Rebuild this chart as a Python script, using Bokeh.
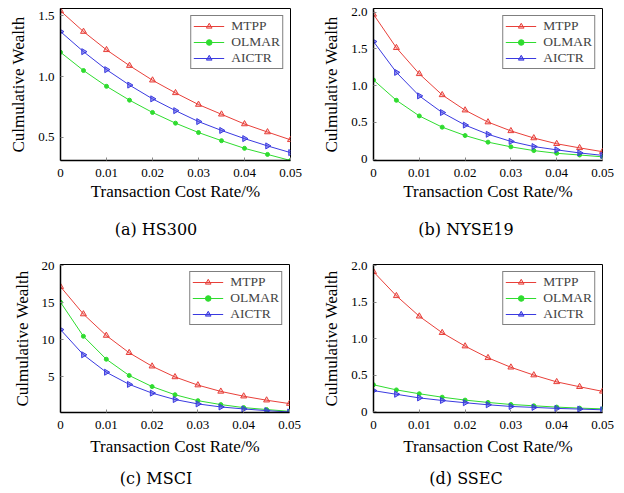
import math
from bokeh.plotting import figure
from bokeh.models import FixedTicker, Range1d, Div
from bokeh.layouts import column, row
from bokeh.embed import file_html
from bokeh.resources import INLINE

# ---------------- data ----------------
cost_rate = [0, 0.005, 0.01, 0.015, 0.02, 0.025, 0.03, 0.035, 0.04, 0.045, 0.05]
series_names = ["MTPP", "OLMAR", "AICTR"]

hs300_mtpp = [1.54, 1.37, 1.22, 1.09, 0.97, 0.866, 0.77, 0.69, 0.61, 0.544, 0.48]
hs300_olmar = [1.20, 1.05, 0.92, 0.806, 0.705, 0.617, 0.54, 0.473, 0.41, 0.36, 0.31]
hs300_aictr = [1.37, 1.205, 1.057, 0.93, 0.817, 0.72, 0.63, 0.557, 0.49, 0.43, 0.375]

nyse_mtpp = [1.97, 1.515, 1.16, 0.873, 0.665, 0.503, 0.383, 0.286, 0.208, 0.152, 0.10]
nyse_olmar = [1.076, 0.80, 0.587, 0.434, 0.32, 0.23, 0.166, 0.115, 0.078, 0.055, 0.03]
nyse_aictr = [1.60, 1.18, 0.86, 0.633, 0.462, 0.337, 0.24, 0.17, 0.125, 0.083, 0.05]

msci_mtpp = [17.2, 13.5, 10.6, 8.27, 6.45, 5.0, 3.9, 3.05, 2.4, 1.86, 1.4]
msci_olmar = [15.1, 10.5, 7.4, 5.2, 3.7, 2.6, 1.8, 1.27, 0.86, 0.6, 0.36]
msci_aictr = [11.4, 8.0, 5.64, 4.0, 2.82, 1.95, 1.36, 0.95, 0.68, 0.45, 0.27]

ssec_mtpp = [1.92, 1.59, 1.31, 1.084, 0.90, 0.74, 0.61, 0.503, 0.41, 0.343, 0.28]
ssec_olmar = [0.37, 0.30, 0.247, 0.20, 0.16, 0.128, 0.10, 0.082, 0.064, 0.05, 0.04]
ssec_aictr = [0.29, 0.24, 0.19, 0.155, 0.124, 0.096, 0.073, 0.06, 0.046, 0.037, 0.027]

x_ticks = [0, 0.01, 0.02, 0.03, 0.04, 0.05]
x_tick_labels = ["0", "0.01", "0.02", "0.03", "0.04", "0.05"]

captions = ["(a) HS300", "(b) NYSE19", "(c) MSCI", "(d) SSEC"]
y_ticks_list = [[0.5, 1.0, 1.5], [0, 0.5, 1.0, 1.5, 2.0], [5, 10, 15, 20], [0, 0.5, 1.0, 1.5, 2.0]]
y_labels_list = [["0.5", "1.0", "1.5"], ["0", "0.5", "1.0", "1.5", "2.0"],
                 ["5", "10", "15", "20"], ["0", "0.5", "1.0", "1.5", "2.0"]]
y_ranges = [(0.31, 1.56), (-0.02, 2.05), (0.2, 20.2), (-0.01, 2.02)]
x_range = (0, 0.05)

datasets = [
    (hs300_mtpp, hs300_olmar, hs300_aictr),
    (nyse_mtpp, nyse_olmar, nyse_aictr),
    (msci_mtpp, msci_olmar, msci_aictr),
    (ssec_mtpp, ssec_olmar, ssec_aictr),
]

# ---------------- style ----------------
FONT = "Liberation Serif"
CAP_FONT = "DejaVu Serif"
RED, GREEN, BLUE = "#e8403a", "#2fdc2f", "#3a3ae0"

# geometry per panel (pixels): width, height, borders l/r/t/b
geoms = [
    (312, 212, 60, 22, 8, 52),
    (308, 212, 61, 18, 8, 52),
    (312, 216, 60, 23, 16, 52),
    (308, 216, 61, 18, 16, 52),
]
# caption strip heights / line heights
cap_heights = [36, 29]
cap_line_heights = [36, 30]


def make_panel(i):
    w, h, bl, br, bt, bb = geoms[i]
    mt, ol, ai = datasets[i]
    y0, y1 = y_ranges[i]
    p = figure(width=w, height=h, output_backend="svg", toolbar_location=None,
               x_range=Range1d(*x_range), y_range=Range1d(y0, y1),
               min_border_left=bl, min_border_right=br,
               min_border_top=bt, min_border_bottom=bb)
    p.grid.visible = False
    p.outline_line_color = "black"
    p.outline_line_width = 1
    p.background_fill_color = "white"
    p.border_fill_color = "white"

    p.line(cost_rate, mt, color=RED, line_width=1, legend_label=series_names[0])
    p.scatter(cost_rate, mt, marker="triangle", size=6, line_color=RED,
              fill_color=RED, fill_alpha=0.25, legend_label=series_names[0])
    p.line(cost_rate, ol, color=GREEN, line_width=1, legend_label=series_names[1])
    p.scatter(cost_rate, ol, marker="circle", size=4, line_color=GREEN,
              fill_color=GREEN, legend_label=series_names[1])
    p.line(cost_rate, ai, color=BLUE, line_width=1, legend_label=series_names[2])
    p.scatter(cost_rate, ai, marker="triangle", angle=-math.pi / 2, size=6,
              line_color=BLUE, fill_color=BLUE, fill_alpha=0.5,
              legend_label=series_names[2])

    p.xaxis.ticker = FixedTicker(ticks=x_ticks)
    p.xaxis.major_label_overrides = dict(zip(x_ticks, x_tick_labels))
    p.yaxis.ticker = FixedTicker(ticks=y_ticks_list[i])
    p.yaxis.major_label_overrides = dict(zip(y_ticks_list[i], y_labels_list[i]))

    for ax in (p.xaxis[0], p.yaxis[0]):
        ax.axis_line_color = "black"
        ax.axis_line_width = 1.5
        ax.major_tick_in = 3
        ax.major_tick_out = 0
        ax.major_tick_line_color = "#888888"
        ax.minor_tick_line_color = None
        ax.major_label_text_font = FONT
        ax.major_label_text_font_size = "13px"
        ax.major_label_text_color = "black"
        ax.axis_label_text_font = FONT
        ax.axis_label_text_font_size = "17px"
        ax.axis_label_text_font_style = "normal"
        ax.axis_label_text_color = "black"
    p.xaxis.axis_label = "Transaction Cost Rate/%"
    p.yaxis.axis_label = "Culmulative Wealth"
    p.xaxis.major_label_standoff = 8
    p.xaxis.axis_label_standoff = 2 if i < 2 else 5
    p.yaxis.major_label_standoff = 6
    p.yaxis.axis_label_standoff = 7

    lg = p.legend[0]
    lg.location = "top_right"
    lg.margin = 7
    lg.padding = 2
    lg.spacing = 0
    lg.border_line_color = "black"
    lg.border_line_width = 1
    lg.background_fill_color = "white"
    lg.background_fill_alpha = 1
    lg.label_text_font = FONT
    lg.label_text_font_size = "13.5px"
    lg.label_height = 14
    lg.glyph_height = 14
    lg.glyph_width = 31
    lg.label_standoff = 7
    return p


def make_caption(i):
    w = geoms[i][0]
    r = i // 2
    return Div(text=captions[i], width=w, height=cap_heights[r], margin=0,
               styles={"font-family": CAP_FONT, "font-size": "16px",
                       "text-align": "center", "color": "black",
                       "line-height": f"{cap_line_heights[r]}px",
                       "white-space": "nowrap", "overflow": "hidden"})


panels = [make_panel(i) for i in range(4)]
caps = [make_caption(i) for i in range(4)]
layout = column(row(panels[0], panels[1]), row(caps[0], caps[1]),
                row(panels[2], panels[3]), row(caps[2], caps[3]))

open("out.html", "w").write(file_html(layout, INLINE))
